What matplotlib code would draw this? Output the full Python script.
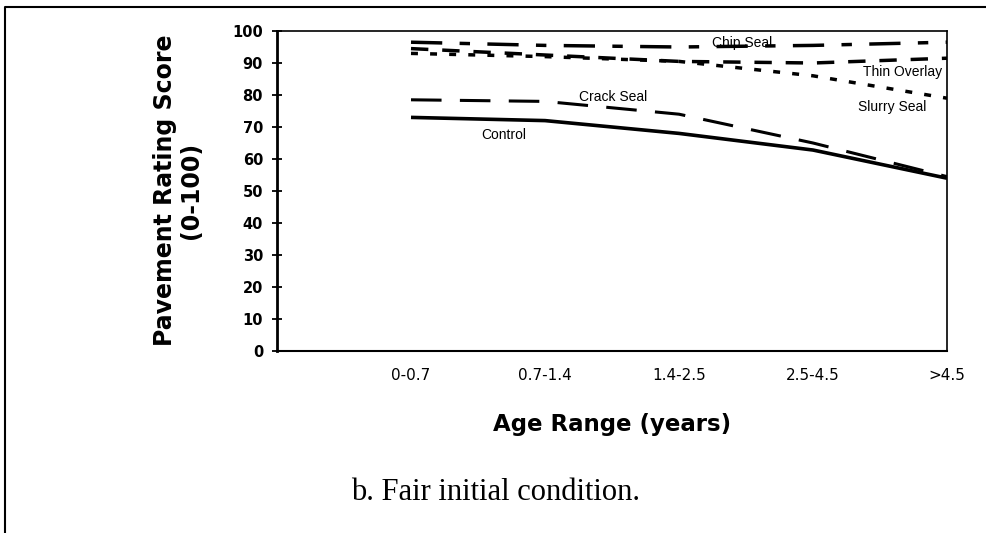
import matplotlib
matplotlib.use("Agg")
import matplotlib.pyplot as plt
from matplotlib.lines import Line2D

plt.rcParams['font.family'] = ['DejaVu Sans']

age_ranges = ['0-0.7', '0.7-1.4', '1.4-2.5', '2.5-4.5', '>4.5']
control = [73, 72, 68, 62.8, 54]
crack_seal = [78.5, 78, 74, 65, 54.5]
chip_seal = [96.5, 95.5, 95, 95.5, 96.5]
thin_overlay = [94.5, 92.5, 90.5, 90, 91.5]
slurry_seal = [93, 92, 90.5, 86, 79]
y_ticks = list(range(0, 101, 10))

fig = plt.figure(figsize=(9.86, 5.33), dpi=100)
# axes box: x 277..947 px, y 31..351 px
ax = fig.add_axes([277 / 986, 1 - 351 / 533, 670 / 986, 320 / 533])

x = list(range(len(age_ranges)))
ax.plot(x, control, color='black', lw=2.6, solid_capstyle='butt')
ax.plot(x, crack_seal, color='black', lw=2.2, dashes=(10, 6))
ax.plot(x, chip_seal, color='black', lw=2.5, dashes=(9, 5, 3, 5))
ax.plot(x, thin_overlay, color='black', lw=2.5, dashes=(5, 4))
ax.plot(x, slurry_seal, color='black', lw=2.5, dashes=(2, 3.5))

# series labels written on the plot
lab_font = dict(fontsize=10, ha='center', va='center', family=['Liberation Sans'])
ax.text(0.69, 67.5, 'Control', **lab_font)
ax.text(1.51, 79.3, 'Crack Seal', **lab_font)
ax.text(2.47, 96.2, 'Chip Seal', **lab_font)
ax.text(3.67, 87.2, 'Thin Overlay', **lab_font)
ax.text(3.59, 76.3, 'Slurry Seal', **lab_font)

ax.set_xlim(-1, 4)
ax.set_ylim(0, 100)
ax.set_yticks(y_ticks)
ax.set_xticks(x)
ax.set_xticklabels(age_ranges)
ax.tick_params(axis='y', direction='inout', length=6.5, width=1.3, labelsize=10.5, pad=6.8)
ax.tick_params(axis='x', length=0, labelsize=11, pad=12.5)
for lab in ax.get_yticklabels():
    lab.set_fontweight('bold')

ax.spines['left'].set_linewidth(2.0)
ax.spines['bottom'].set_linewidth(1.5)
ax.spines['right'].set_linewidth(1.2)
ax.spines['top'].set_linewidth(1.2)

fig.text(178 / 986, 1 - 190 / 533, 'Pavement Rating Score\n(0-100)', fontsize=17,
         fontweight='bold', rotation=90, ha='center', va='center',
         multialignment='center', linespacing=1.1)
fig.text(612 / 986, 1 - 425 / 533, 'Age Range (years)', fontsize=16.5,
         fontweight='bold', ha='center', va='center')

fig.text(351 / 986, 1 - 500 / 533, 'b. Fair initial condition.', fontsize=22,
         family=['Liberation Serif', 'DejaVu Serif'], ha='left', va='baseline')

# outer frame of the scanned page
fig.add_artist(Line2D([0.005, 0.005, 1.0], [0.0, 0.987, 0.987],
                      transform=fig.transFigure, color='black', lw=1.5))

fig.savefig('out.png', dpi=100)
